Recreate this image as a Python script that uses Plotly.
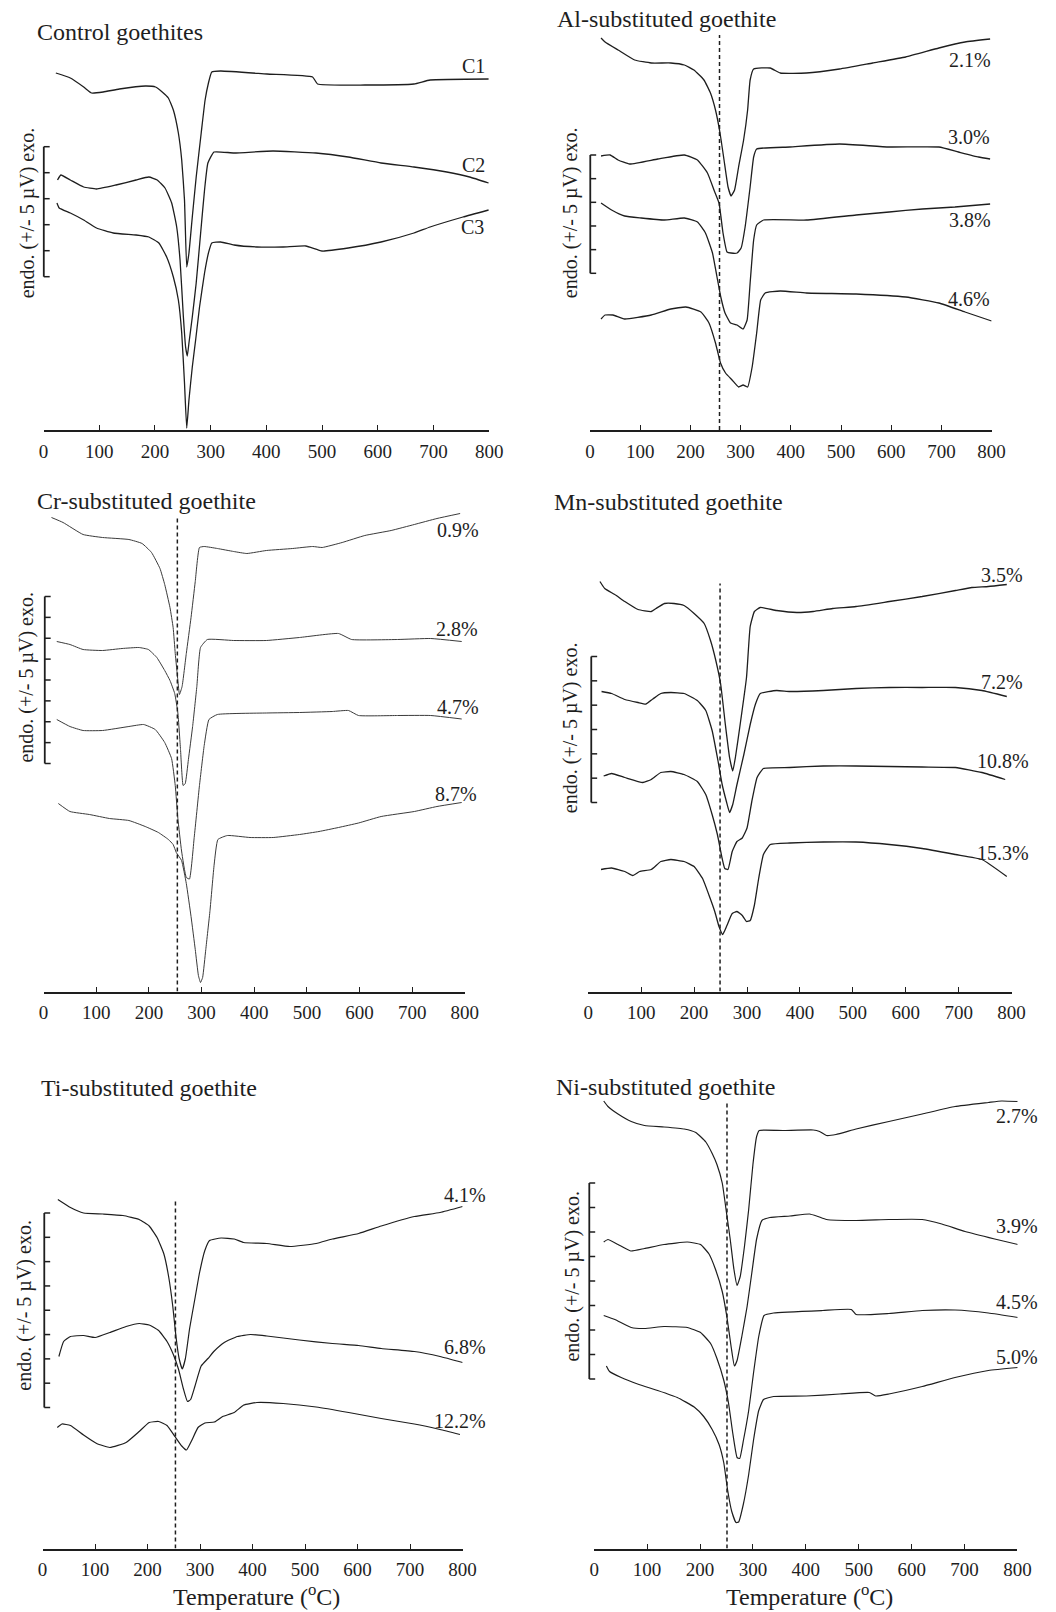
import plotly.graph_objects as go

FIG_W, FIG_H = 1056, 1612
FONT = "Liberation Serif, Times New Roman, serif"
INK = "#1e1e1e"

# ---------------- data: (temperature °C, DTA signal, arbitrary units) ----------------
TICKS_T = [0, 100, 200, 300, 400, 500, 600, 700, 800]

# Control goethites
CTRL_NAMES = ["C1", "C2", "C3"]
C1 = [(22, 35.7), (48, 35.2), (72, 34.3), (86, 33.7), (107, 33.8), (136, 34.1), (183, 34.4), (201, 34.3),
      (213, 33.8), (224, 33.2), (233, 32.0), (242, 29.7), (248, 27.0), (253, 23.0), (257, 16.3), (261, 17.7),
      (267, 21.3), (274, 25.3), (283, 29.7), (290, 33.0), (296, 34.7), (302, 35.8), (318, 35.9), (401, 35.6),
      (483, 35.3), (492, 34.6), (577, 34.5), (665, 34.6), (694, 35.0), (799, 35.1)]
C2 = [(25, 25.0), (31, 25.5), (48, 25.0), (72, 24.3), (95, 24.1), (130, 24.5), (166, 25.0), (189, 25.3),
      (204, 25.0), (218, 24.2), (230, 22.7), (239, 20.3), (245, 17.0), (251, 11.3), (255, 8.3), (258, 7.4),
      (261, 8.7), (267, 11.3), (274, 14.7), (282, 19.7), (289, 24.0), (295, 26.7), (306, 27.8), (342, 27.7),
      (412, 27.9), (489, 27.7), (547, 27.3), (606, 26.7), (665, 26.3), (724, 25.8), (765, 25.3), (799, 24.7)]
C3 = [(24, 22.7), (28, 22.2), (48, 21.7), (72, 21.0), (95, 20.2), (125, 19.7), (166, 19.5), (189, 19.3),
      (207, 18.7), (221, 17.3), (233, 15.3), (242, 13.0), (248, 9.7), (253, 4.7), (257, 0.2), (261, 3.0),
      (267, 6.3), (273, 9.0), (280, 12.3), (289, 15.7), (296, 17.7), (302, 18.7), (318, 18.8), (342, 18.5),
      (383, 18.3), (430, 18.3), (471, 18.4), (500, 17.9), (547, 18.2), (606, 18.8), (665, 19.7), (694, 20.3),
      (753, 21.3), (799, 22.0)]

# Al-substituted goethite
AL_NAMES = ["2.1%", "3.0%", "3.8%", "4.6%"]
AL21 = [(22, 39.2), (30, 38.8), (56, 38.0), (89, 37.0), (122, 36.7), (161, 36.7), (188, 36.5), (207, 36.0),
        (227, 35.0), (240, 33.7), (250, 32.0), (259, 29.7), (267, 27.0), (275, 24.3), (281, 23.4), (288, 24.0),
        (296, 26.3), (306, 29.0), (314, 32.0), (319, 35.0), (326, 36.1), (359, 36.2), (379, 35.7), (431, 35.7),
        (497, 36.1), (563, 36.7), (629, 37.3), (695, 38.2), (747, 38.8), (797, 39.1)]
AL30 = [(22, 27.4), (40, 27.5), (56, 27.0), (79, 26.6), (135, 27.1), (188, 27.5), (214, 27.0), (234, 25.7),
        (247, 24.0), (257, 22.7), (265, 19.7), (273, 17.8), (281, 17.7), (293, 17.7), (301, 18.2), (309, 20.3),
        (319, 24.3), (326, 27.3), (332, 28.1), (398, 28.3), (497, 28.6), (596, 28.3), (695, 28.3), (734, 27.8),
        (774, 27.3), (797, 27.1)]
AL38 = [(22, 22.7), (43, 22.0), (69, 21.4), (102, 21.2), (148, 21.0), (188, 21.2), (214, 20.8), (230, 19.7),
        (244, 17.7), (253, 15.3), (261, 13.2), (269, 11.7), (280, 10.7), (293, 10.5), (305, 10.1), (313, 11.0),
        (319, 14.7), (326, 19.0), (332, 20.5), (346, 21.0), (431, 21.0), (530, 21.5), (596, 21.8), (662, 22.1),
        (727, 22.3), (797, 22.6)]
AL46 = [(22, 11.1), (30, 11.5), (46, 11.5), (69, 11.1), (122, 11.5), (161, 12.1), (191, 12.3), (221, 11.8),
        (237, 10.7), (250, 8.7), (260, 6.7), (270, 5.7), (283, 5.0), (296, 4.3), (305, 4.5), (314, 4.3),
        (323, 6.3), (332, 9.7), (340, 13.0), (349, 13.7), (379, 13.9), (431, 13.7), (530, 13.6), (629, 13.3),
        (695, 12.7), (747, 11.8), (800, 10.9)]

# Cr-substituted goethite
CR_NAMES = ["0.9%", "2.8%", "4.7%", "8.7%"]
CR09 = [(15, 47.4), (37, 46.9), (75, 45.7), (112, 45.4), (162, 45.2), (187, 44.8), (205, 43.9), (221, 42.3),
        (230, 40.7), (240, 38.4), (246, 36.4), (250, 33.8), (255, 31.1), (258, 29.7), (263, 30.5), (271, 33.8),
        (280, 37.4), (288, 41.0), (296, 44.4), (305, 44.5), (330, 44.3), (361, 44.0), (386, 43.8), (423, 44.1),
        (473, 44.3), (511, 44.5), (529, 44.4), (567, 44.9), (610, 45.6), (660, 46.1), (704, 46.7), (747, 47.3),
        (791, 47.8)]
CR28 = [(25, 35.0), (50, 34.7), (75, 34.2), (112, 34.1), (149, 34.3), (181, 34.4), (199, 34.2), (215, 33.4),
        (230, 32.1), (240, 31.1), (249, 29.8), (255, 27.85), (260, 24.2), (265, 20.6), (269, 20.8), (275, 23.2),
        (283, 26.5), (291, 30.5), (298, 34.4), (311, 35.2), (361, 35.1), (423, 35.1), (486, 35.4), (560, 35.8),
        (585, 35.2), (672, 35.2), (735, 35.3), (794, 35.0)]
CR47 = [(25, 27.2), (50, 26.5), (75, 26.1), (112, 26.1), (162, 26.5), (190, 26.7), (212, 26.2), (230, 24.9),
        (243, 23.3), (250, 20.6), (255, 17.3), (262, 14.05), (271, 11.4), (277, 11.25), (286, 15.4), (296, 20.6),
        (305, 24.6), (314, 27.2), (330, 27.7), (423, 27.85), (486, 27.9), (548, 28.0), (579, 28.1), (598, 27.6),
        (672, 27.6), (735, 27.6), (794, 27.25)]
CR87 = [(28, 18.8), (50, 18.0), (87, 17.7), (125, 17.3), (162, 17.1), (193, 16.5), (218, 15.9), (237, 15.2),
        (246, 14.7), (252, 13.9), (262, 13.1), (271, 10.8), (280, 7.5), (288, 4.2), (294, 1.6), (298, 0.9),
        (302, 1.4), (308, 4.2), (316, 8.1), (324, 12.75), (331, 15.2), (349, 15.6), (392, 15.4), (436, 15.4),
        (486, 15.7), (523, 16.0), (560, 16.4), (598, 16.85), (641, 17.5), (704, 18.0), (747, 18.5), (794, 18.9)]

# Mn-substituted goethite
MN_NAMES = ["3.5%", "7.2%", "10.8%", "15.3%"]
MN35 = [(22, 41.0), (31, 40.3), (50, 39.7), (69, 39.0), (94, 38.2), (119, 38.0), (128, 38.3), (144, 38.8),
        (162, 38.8), (181, 38.6), (200, 37.8), (219, 36.8), (231, 35.1), (241, 33.1), (250, 30.8), (259, 26.7),
        (267, 23.4), (273, 22.05), (278, 23.4), (287, 26.7), (299, 31.4), (306, 36.5), (314, 38.0), (325, 38.4),
        (356, 38.1), (394, 37.9), (425, 38.0), (462, 38.3), (506, 38.5), (569, 39.0), (631, 39.5), (694, 40.1),
        (725, 40.4), (756, 40.5), (791, 40.7)]
MN72 = [(25, 30.0), (44, 29.8), (69, 29.2), (94, 28.9), (109, 28.75), (122, 29.25), (137, 29.8), (156, 29.9),
        (181, 29.8), (206, 29.1), (222, 28.1), (234, 26.1), (245, 23.1), (253, 20.7), (261, 19.0), (267, 17.9),
        (273, 18.7), (281, 20.7), (294, 23.7), (306, 26.7), (316, 28.75), (325, 29.8), (356, 30.1), (381, 30.0),
        (444, 30.1), (506, 30.3), (569, 30.4), (631, 30.4), (694, 30.4), (744, 30.1), (791, 29.5)]
MN108 = [(29, 21.55), (44, 21.8), (69, 21.4), (103, 20.9), (119, 21.2), (137, 21.9), (156, 22.0), (181, 21.7),
         (206, 21.0), (222, 19.7), (234, 17.7), (244, 15.7), (253, 13.3), (258, 12.3), (264, 12.2), (272, 14.0),
         (281, 15.0), (291, 15.35), (300, 16.35), (309, 19.0), (319, 21.4), (331, 22.3), (381, 22.4), (444, 22.55),
         (506, 22.55), (569, 22.5), (631, 22.45), (694, 22.4), (744, 21.9), (788, 21.2)]
MN153 = [(24, 12.2), (44, 12.35), (69, 12.0), (84, 11.6), (97, 12.0), (119, 12.2), (137, 13.0), (156, 13.2),
         (181, 13.0), (200, 12.5), (216, 11.3), (228, 9.65), (239, 8.0), (247, 6.5), (254, 5.7), (262, 6.6),
         (272, 7.8), (281, 8.0), (291, 7.6), (299, 7.0), (306, 7.1), (314, 8.65), (322, 11.3), (331, 13.7),
         (344, 14.7), (381, 14.85), (444, 14.95), (506, 14.95), (569, 14.7), (631, 14.3), (694, 13.7),
         (744, 13.2), (791, 11.5)]

# Ti-substituted goethite
TI_NAMES = ["4.1%", "6.8%", "12.2%"]
TI41 = [(29, 34.9), (53, 34.1), (78, 33.55), (115, 33.45), (153, 33.3), (184, 32.9), (203, 32.25), (218, 31.1),
        (231, 29.45), (240, 27.2), (248, 24.2), (254, 21.2), (260, 19.0), (266, 17.95), (272, 19.0), (280, 22.0),
        (290, 24.95), (299, 27.6), (309, 29.8), (318, 30.8), (340, 31.05), (365, 30.95), (383, 30.6), (427, 30.5),
        (471, 30.2), (521, 30.5), (552, 30.95), (602, 31.5), (645, 32.25), (708, 33.2), (757, 33.6), (800, 34.2)]
TI68 = [(31, 19.2), (40, 20.7), (53, 21.2), (78, 21.3), (100, 21.1), (128, 21.6), (159, 22.2), (184, 22.5),
        (203, 22.35), (221, 21.8), (237, 20.7), (249, 19.4), (259, 17.9), (268, 16.0), (276, 14.7), (282, 14.9),
        (290, 16.2), (302, 18.25), (315, 19.0), (327, 19.75), (346, 20.6), (371, 21.2), (396, 21.4), (427, 21.25),
        (489, 20.85), (552, 20.5), (602, 20.3), (645, 20.0), (708, 19.7), (757, 19.2), (800, 18.6)]
TI122 = [(28, 12.1), (37, 12.45), (53, 12.3), (78, 11.35), (103, 10.5), (128, 10.1), (159, 10.6), (184, 11.7),
         (203, 12.6), (221, 12.7), (237, 12.3), (252, 11.2), (265, 10.25), (274, 9.85), (284, 10.8), (296, 12.1),
         (309, 12.55), (327, 12.65), (343, 13.2), (365, 13.6), (383, 14.35), (408, 14.6), (458, 14.5),
         (521, 14.15), (583, 13.6), (645, 13.0), (708, 12.45), (757, 11.9), (795, 11.4)]

# Ni-substituted goethite
NI_NAMES = ["2.7%", "3.9%", "4.5%", "5.0%"]
NI27 = [(18, 44.75), (26, 44.2), (45, 43.45), (70, 42.7), (95, 42.3), (132, 42.15), (170, 41.95), (192, 41.6),
        (211, 40.65), (223, 39.5), (232, 38.4), (242, 36.55), (250, 33.6), (257, 30.95), (264, 27.95), (270, 26.3),
        (276, 27.2), (284, 30.2), (292, 33.9), (300, 38.4), (307, 41.2), (312, 41.8), (357, 41.8), (414, 41.85),
        (426, 41.7), (439, 41.3), (457, 41.4), (495, 41.95), (557, 42.7), (620, 43.45), (682, 44.2), (745, 44.6),
        (770, 44.75), (801, 44.7)]
NI39 = [(18, 30.65), (26, 30.9), (45, 30.4), (69, 29.75), (95, 30.0), (132, 30.4), (176, 30.65), (201, 30.4),
        (217, 29.45), (229, 27.95), (242, 25.7), (251, 23.1), (259, 20.1), (265, 18.25), (270, 18.8), (279, 21.2),
        (289, 24.2), (298, 27.6), (307, 30.95), (317, 32.8), (332, 33.1), (370, 33.25), (407, 33.45), (423, 33.2),
        (439, 32.9), (495, 32.8), (557, 32.9), (620, 32.9), (657, 32.45), (701, 31.7), (757, 30.95), (801, 30.4)]
NI45 = [(18, 23.3), (39, 22.9), (70, 22.1), (95, 22.0), (132, 22.2), (176, 22.1), (201, 21.6), (220, 20.5),
        (232, 19.0), (245, 16.8), (254, 14.5), (262, 11.5), (270, 9.1), (275, 9.0), (282, 10.8), (292, 13.8),
        (301, 17.5), (311, 21.2), (321, 23.3), (339, 23.55), (432, 23.8), (486, 23.9), (495, 23.4), (557, 23.5),
        (620, 23.8), (682, 23.85), (745, 23.55), (801, 23.1)]
NI50 = [(23, 18.25), (29, 17.7), (51, 17.1), (82, 16.45), (120, 15.8), (157, 15.1), (189, 14.15), (207, 13.2),
        (223, 11.9), (236, 10.4), (245, 8.55), (252, 5.9), (260, 3.7), (268, 2.6), (273, 2.65), (282, 4.45),
        (292, 7.4), (301, 10.8), (311, 13.8), (320, 14.9), (339, 15.2), (401, 15.25), (464, 15.45), (520, 15.6),
        (532, 15.25), (557, 15.45), (620, 16.2), (682, 17.1), (745, 17.8), (801, 18.1)]

# ---------------- panel layout (pixel geometry of the page) ----------------
PANELS = [
    dict(title="Control goethites", title_px=(31, 32), x_px=(39.3, 493), axis_px=430, top_px=30,
         curves=[C1, C2, C3], names=CTRL_NAMES,
         label_pos=[(797, 36.4), (796, 26.5), (795, 20.3)],
         bracket=(39.5, 15.33, 28.33, 5), ylab_px=(22.7, 213), dash=None, color=INK, width=1.3),
    dict(title="Al-substituted goethite", title_px=(560, 19), x_px=(595.7, 1004.7), axis_px=430, top_px=30,
         curves=[AL21, AL30, AL38, AL46], names=AL_NAMES,
         label_pos=[(803, 37.0), (800, 29.3), (802, 21.0), (800, 13.1)],
         bracket=(596, 15.67, 27.5, 5), ylab_px=(575.5, 213), dash=(258, 39.5), color=INK, width=1.3),
    dict(title="Cr-substituted goethite", title_px=(31, 501), x_px=(39.3, 468.3), axis_px=991.5, top_px=501.5,
         curves=[CR09, CR28, CR47, CR87], names=CR_NAMES,
         label_pos=[(831, 46.1), (828, 36.2), (831, 28.5), (827, 19.8)],
         bracket=(40.5, 22.8, 39.5, 8), ylab_px=(21, 677), dash=(254, 47.55), color="#3a3a3a", width=1.0),
    dict(title="Mn-substituted goethite", title_px=(557, 502), x_px=(594, 1025), axis_px=991.5, top_px=501.5,
         curves=[MN35, MN72, MN108, MN153], names=MN_NAMES,
         label_pos=[(825, 41.65), (825, 31.0), (837, 23.05), (837, 13.9)],
         bracket=(597, 18.9, 33.5, 6), ylab_px=(575.5, 728), dash=(249, 40.8), color=INK, width=1.3),
    dict(title="Ti-substituted goethite", title_px=(35, 1088), x_px=(38.3, 466), axis_px=1548.5, top_px=1088.5,
         curves=[TI41, TI68, TI122], names=TI_NAMES,
         label_pos=[(848, 35.4), (848, 20.2), (848, 12.8)],
         bracket=(40, 14.1, 33.55, 8), ylab_px=(19, 1305), dash=(253, 34.7), color=INK, width=1.2),
    dict(title="Ni-substituted goethite", title_px=(558.6, 1087), x_px=(600, 1031), axis_px=1548.5, top_px=1088.5,
         curves=[NI27, NI39, NI45, NI50], names=NI_NAMES,
         label_pos=[(842, 43.3), (842, 32.25), (842, 24.6), (842, 19.2)],
         bracket=(595, 16.95, 36.55, 8), ylab_px=(577, 1276), dash=(251, 44.75), color=INK, width=1.2),
]
XLABEL_BOTTOM_PX = 1612
YLABEL_TEXT = "endo. (+/- 5 µV) exo."


def px_x(p):
    return p / FIG_W


def px_y(p):
    return 1 - p / FIG_H


fig = go.Figure()
shapes, annotations = [], []
layout_axes = {}

for i, P in enumerate(PANELS, start=1):
    sfx = "" if i == 1 else str(i)
    xr, yr = f"x{sfx}", f"y{sfx}"
    yrange = (P["axis_px"] - P["top_px"]) / 10.0
    x0p, x1p = P["x_px"]

    def data_to_paper(t, v, P=P, yrange=yrange, x0p=x0p, x1p=x1p):
        fx = (x0p + (x1p - x0p) * t / 800.0) / FIG_W
        fy0, fy1 = px_y(P["axis_px"]), px_y(P["top_px"])
        fy = fy0 + (fy1 - fy0) * v / yrange
        return fx, fy

    for curve in P["curves"]:
        fig.add_trace(go.Scatter(
            x=[t for t, _ in curve], y=[v for _, v in curve], mode="lines",
            line=dict(color=P["color"], width=P["width"], shape="spline", smoothing=0.4),
            xaxis=xr, yaxis=yr, showlegend=False, hoverinfo="skip", cliponaxis=False))

    layout_axes[f"xaxis{sfx}"] = dict(
        domain=[px_x(x0p), px_x(x1p)], range=[0, 800], anchor=yr,
        tickmode="array", tickvals=TICKS_T, ticks="inside", ticklen=5, tickwidth=1.3, tickcolor=INK,
        showline=True, linecolor=INK, linewidth=1.5, showgrid=False, zeroline=False,
        tickfont=dict(family=FONT, size=19, color=INK), ticklabelstandoff=3, fixedrange=True)
    layout_axes[f"yaxis{sfx}"] = dict(
        domain=[px_y(P["axis_px"]), px_y(P["top_px"])], range=[0, yrange], anchor=xr,
        visible=False, fixedrange=True)

    # scale bracket (x in page pixels, y in signal units of the panel)
    bxp, b0, b1, n = P["bracket"]
    ydom = f"{yr} domain"
    shapes.append(dict(type="line", xref="paper", yref=ydom, x0=px_x(bxp), x1=px_x(bxp),
                       y0=b0 / yrange, y1=b1 / yrange, line=dict(color=INK, width=1.8)))
    for k in range(n + 1):
        yk = (b0 + (b1 - b0) * k / n) / yrange
        shapes.append(dict(type="line", xref="paper", yref=ydom, x0=px_x(bxp), x1=px_x(bxp + 6),
                           y0=yk, y1=yk, line=dict(color=INK, width=1.5)))

    # dashed reference line
    if P["dash"] is not None:
        dx, dtop = P["dash"]
        shapes.append(dict(type="line", xref=xr, yref=yr, x0=dx, x1=dx, y0=0, y1=dtop,
                           line=dict(color=INK, width=1.5, dash="4px,3px")))

    # title
    annotations.append(dict(text=P["title"], xref="paper", yref="paper",
                            x=px_x(P["title_px"][0]), y=px_y(P["title_px"][1]),
                            xanchor="left", yanchor="middle", showarrow=False,
                            font=dict(family=FONT, size=24, color=INK)))
    # y label
    annotations.append(dict(text=YLABEL_TEXT, xref="paper", yref="paper",
                            x=px_x(P["ylab_px"][0]), y=px_y(P["ylab_px"][1]), textangle=-90,
                            xanchor="center", yanchor="middle", showarrow=False,
                            font=dict(family=FONT, size=20, color=INK)))
    # curve labels
    for name, (lt, lv) in zip(P["names"], P["label_pos"]):
        fx, fy = data_to_paper(lt, lv)
        annotations.append(dict(text=name, xref="paper", yref="paper", x=fx, y=fy,
                                xanchor="right", yanchor="middle", showarrow=False,
                                font=dict(family=FONT, size=20, color=INK)))
    # x title on the bottom row
    if i >= 5:
        xc = (x0p + x1p) / 2 + 4
        annotations.append(dict(text="Temperature (<sup>o</sup>C)", xref="paper", yref="paper",
                                x=px_x(xc), y=px_y(XLABEL_BOTTOM_PX), xanchor="center", yanchor="bottom",
                                showarrow=False, font=dict(family=FONT, size=24, color=INK)))

fig.update_layout(
    width=FIG_W, height=FIG_H, margin=dict(l=0, r=0, t=0, b=0),
    paper_bgcolor="white", plot_bgcolor="white",
    shapes=shapes, annotations=annotations, showlegend=False,
    **layout_axes)

fig.write_html("out.html", config={"displayModeBar": False},
               post_script="document.body.style.margin='0';document.body.style.overflow='hidden';")
